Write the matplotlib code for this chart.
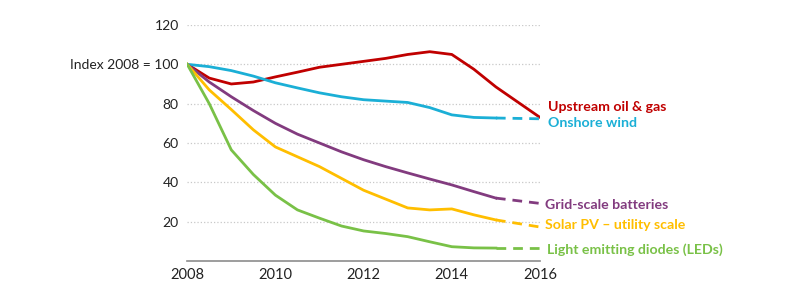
import numpy as np
from matplotlib import pyplot as plt

plt.rcParams['font.family'] = ['Lato', 'DejaVu Sans']

# readings at half-year steps, 2008..2015 (solid part)
years = [2008, 2008.5, 2009, 2009.5, 2010, 2010.5, 2011, 2011.5, 2012,
         2012.5, 2013, 2013.5, 2014, 2014.5, 2015]
oil_gas = [100, 93, 90, 91, 93.6, 96, 98.5, 100, 101.5, 103, 105, 106.4, 105, 97.5, 88.5]
oil_gas_end = 73
wind = [100, 98.8, 96.8, 94, 90.6, 88, 85.5, 83.5, 82, 81.3, 80.6, 78, 74.3, 73, 72.7]
wind_end = 72.3
batteries = [100, 91, 83.5, 76.5, 70, 64.5, 60, 55.5, 51.5, 48, 44.8, 41.7, 38.7, 35.3, 32]
batteries_end = 29.3
solar = [100, 87, 77, 66.7, 58, 53, 48, 42, 36, 31.5, 27, 26, 26.5, 23.5, 20.9]
solar_end = 17.3
leds = [100, 80, 56.5, 44, 33.5, 26, 21.8, 17.8, 15.3, 14, 12.4, 9.8, 7.3, 6.7, 6.6]
leds_end = 6.6

names = ["Upstream oil & gas", "Onshore wind", "Grid-scale batteries",
         "Solar PV \u2013 utility scale", "Light emitting diodes (LEDs)"]
label_y = [78.4, 70.0, 28.5, 18.3, 5.8]
label_x = [2016.19, 2016.19, 2016.12, 2016.12, 2016.17]

fig = plt.figure(figsize=(8, 2.97), dpi=100)
ax = fig.add_axes([0.234, 0.121, 0.441, 0.795])

series = [
    (oil_gas, oil_gas_end, '#C00000'),
    (wind, wind_end, '#1BAFD6'),
    (batteries, batteries_end, '#823B7F'),
    (solar, solar_end, '#FFBE00'),
    (leds, leds_end, '#79C147'),
]

for i, (vals, end, col) in enumerate(series):
    if i == 0:
        ax.plot(years + [2016], vals + [end], color=col, lw=2.0,
                solid_capstyle='round', solid_joinstyle='round')
    else:
        ax.plot(years, vals, color=col, lw=2.0, solid_joinstyle='round')
        ax.plot([2015, 2016], [vals[-1], end], color=col, lw=2.0,
                dashes=(3.5, 2.5))
    ax.text(label_x[i], label_y[i], names[i], color=col, fontsize=10.2,
            fontweight='bold', va='center', ha='left', clip_on=False)

ax.set_xlim(2008, 2016)
ax.set_ylim(0, 120)
ax.set_xticks([2008, 2010, 2012, 2014, 2016])
ax.set_yticks([20, 40, 60, 80, 100, 120])
ax.set_yticklabels(['20', '40', '60', '80', 'Index 2008 = 100', '120'])
ax.tick_params(length=0, labelsize=10, colors='#222222', pad=6)
ax.tick_params(axis='x', labelsize=10.5, pad=5)
ax.grid(axis='y', color='#c8c8c8', ls=':', lw=0.9)
for s in ['top', 'right', 'left']:
    ax.spines[s].set_visible(False)
ax.spines['bottom'].set_color('#8c8c8c')
ax.spines['bottom'].set_linewidth(1.2)

plt.savefig('out.png', dpi=100)
